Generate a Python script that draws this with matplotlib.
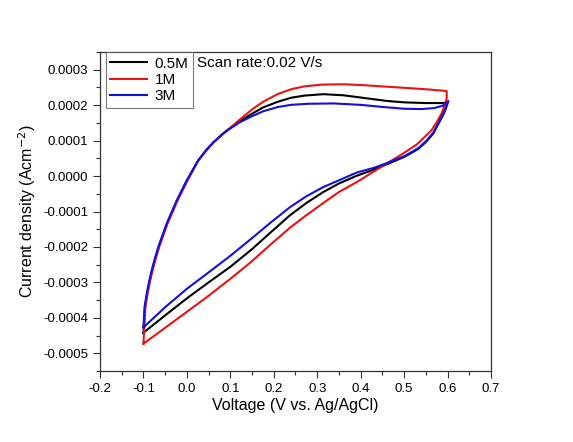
import matplotlib
matplotlib.use("Agg")
import matplotlib.pyplot as plt
from matplotlib.ticker import MultipleLocator, FormatStrFormatter

plt.rcParams["font.family"] = ["Liberation Sans", "DejaVu Sans"]

# ── CV loops (V vs Ag/AgCl, A/cm^2) ─────────────────────────────────────────
# shared anodic rise from the -0.1 V vertex
rise_v = [-0.0975, -0.0925, -0.087, -0.081, -0.0735, -0.0658, -0.0465,
          -0.0234, -0.0004, 0.0263, 0.045, 0.061, 0.08, 0.0917]
rise_j = [-0.00037, -0.000332, -0.000298, -0.000266, -0.000232, -0.0002,
          -0.000134, -0.0000686, -0.0000121, 0.0000444, 0.0000735, 0.000095,
          0.000116, 0.000128]

# 0.5 M
black_up_v = [0.1223, 0.15, 0.176, 0.21, 0.24, 0.27, 0.314, 0.36, 0.41, 0.46,
              0.5, 0.55, 0.59, 0.6]
black_up_j = [0.000155, 0.000176, 0.000194, 0.000210, 0.000221, 0.000227,
              0.000231, 0.000228, 0.000220, 0.000212, 0.000208, 0.000206,
              0.000206, 0.000208]
black_dn_v = [0.592, 0.58, 0.567, 0.55, 0.533, 0.502, 0.4676, 0.43, 0.391,
              0.35, 0.314, 0.275, 0.237, 0.19, 0.15, 0.1, 0.0455, 0.0, -0.05,
              -0.1]
black_dn_j = [0.000178, 0.000150, 0.000120, 0.000096, 0.000077, 0.000055,
              0.000037, 0.000018, 0.000001, -0.000021, -0.000045, -0.000076,
              -0.000111, -0.000162, -0.000206, -0.000256, -0.000304,
              -0.000345, -0.000393, -0.000442]

# 1 M
red_up_v = [0.1223, 0.15, 0.176, 0.21, 0.24, 0.27, 0.31, 0.36, 0.40, 0.45,
            0.5, 0.55, 0.598]
red_up_j = [0.000160, 0.000188, 0.000210, 0.000232, 0.000245, 0.000253,
            0.000258, 0.000259, 0.000257, 0.000253, 0.000249, 0.000245,
            0.000240]
red_dn_v = [0.598, 0.593, 0.586, 0.575, 0.563, 0.53, 0.498, 0.45, 0.391,
            0.35, 0.314, 0.27, 0.237, 0.19, 0.15, 0.1, 0.0455, 0.0, -0.05,
            -0.1]
red_dn_j = [0.000219, 0.000198, 0.000176, 0.000152, 0.000129, 0.000090,
            0.000064, 0.000028, -0.000017, -0.000045, -0.000076, -0.000115,
            -0.000146, -0.000196, -0.000240, -0.000290, -0.000342,
            -0.000383, -0.000428, -0.000473]

# 3 M
blue_up_v = [0.1223, 0.15, 0.176, 0.21, 0.24, 0.28, 0.337, 0.4, 0.45, 0.5,
             0.54, 0.57, 0.59, 0.602]
blue_up_j = [0.000152, 0.000169, 0.000183, 0.000195, 0.000201, 0.000204,
             0.000205, 0.000201, 0.000195, 0.000190, 0.000189, 0.000192,
             0.000199, 0.000212]
blue_dn_v = [0.596, 0.59, 0.58, 0.567, 0.55, 0.533, 0.502, 0.4676, 0.43,
             0.391, 0.35, 0.314, 0.275, 0.237, 0.19, 0.15, 0.1, 0.0455, 0.0,
             -0.05, -0.1]
blue_dn_j = [0.000190, 0.000176, 0.000152, 0.000122, 0.000098, 0.000079,
             0.000057, 0.000040, 0.000023, 0.000010, -0.000012, -0.000031,
             -0.000057, -0.000088, -0.000134, -0.000175, -0.000225,
             -0.000276, -0.000318, -0.000370, -0.000427]

start_j = {"0.5M": -0.000442, "1M": -0.000473, "3M": -0.000427}


def loop(up_v, up_j, dn_v, dn_j, j0, dx=0.0):
    v = [-0.1] + [x + dx if x < 0.0 else x for x in rise_v] + up_v + dn_v
    j = [j0] + rise_j + up_j + dn_j
    return v, j


fig = plt.figure(figsize=(5.73, 4.42), dpi=100)
ax = fig.add_axes([0.1745, 0.1606, 0.6824, 0.7217])

series = [
    ("0.5M", "black", black_up_v, black_up_j, black_dn_v, black_dn_j, 0.001),
    ("1M", "#ee1111", red_up_v, red_up_j, red_dn_v, red_dn_j, 0.002),
    ("3M", "#1010e0", blue_up_v, blue_up_j, blue_dn_v, blue_dn_j, 0.0),
]
for name, col, uv, uj, dv, dj, dx in series:
    v, j = loop(uv, uj, dv, dj, start_j[name], dx)
    ax.plot(v, j, color=col, lw=1.5, label=name, solid_joinstyle="round")

ax.set_xlim(-0.2, 0.7)
ax.set_ylim(-0.00055, 0.00035)
ax.xaxis.set_major_locator(MultipleLocator(0.1))
ax.xaxis.set_minor_locator(MultipleLocator(0.05))
ax.yaxis.set_major_locator(MultipleLocator(0.0001))
ax.yaxis.set_minor_locator(MultipleLocator(0.00005))
ax.xaxis.set_major_formatter(FormatStrFormatter("%.1f"))
ax.yaxis.set_major_formatter(FormatStrFormatter("%.4f"))
ax.tick_params(which="both", direction="out", top=False, right=False,
               labelsize=9.5, color="#333333", width=0.8)
ax.tick_params(which="major", length=5)
ax.tick_params(which="minor", length=3)
for s in ax.spines.values():
    s.set_color("#333333")
    s.set_linewidth(0.9)

ax.set_xlabel("Voltage (V vs. Ag/AgCl)", fontsize=11.5, labelpad=2)
ax.set_ylabel("Current density (Acm$^{-2}$)", fontsize=11.5, labelpad=4)

leg = ax.legend(loc="upper left", bbox_to_anchor=(0.015, 1.0), fontsize=11,
                frameon=True, fancybox=False, edgecolor="#555555",
                borderaxespad=0, handlelength=2.4, handletextpad=0.5,
                labelspacing=0.15, borderpad=0.3)
leg.get_frame().set_linewidth(0.8)

ax.text(0.248, 0.965, "Scan rate:0.02 V/s", transform=ax.transAxes,
        fontsize=11, va="center", ha="left")

fig.savefig("out.png", dpi=100)
